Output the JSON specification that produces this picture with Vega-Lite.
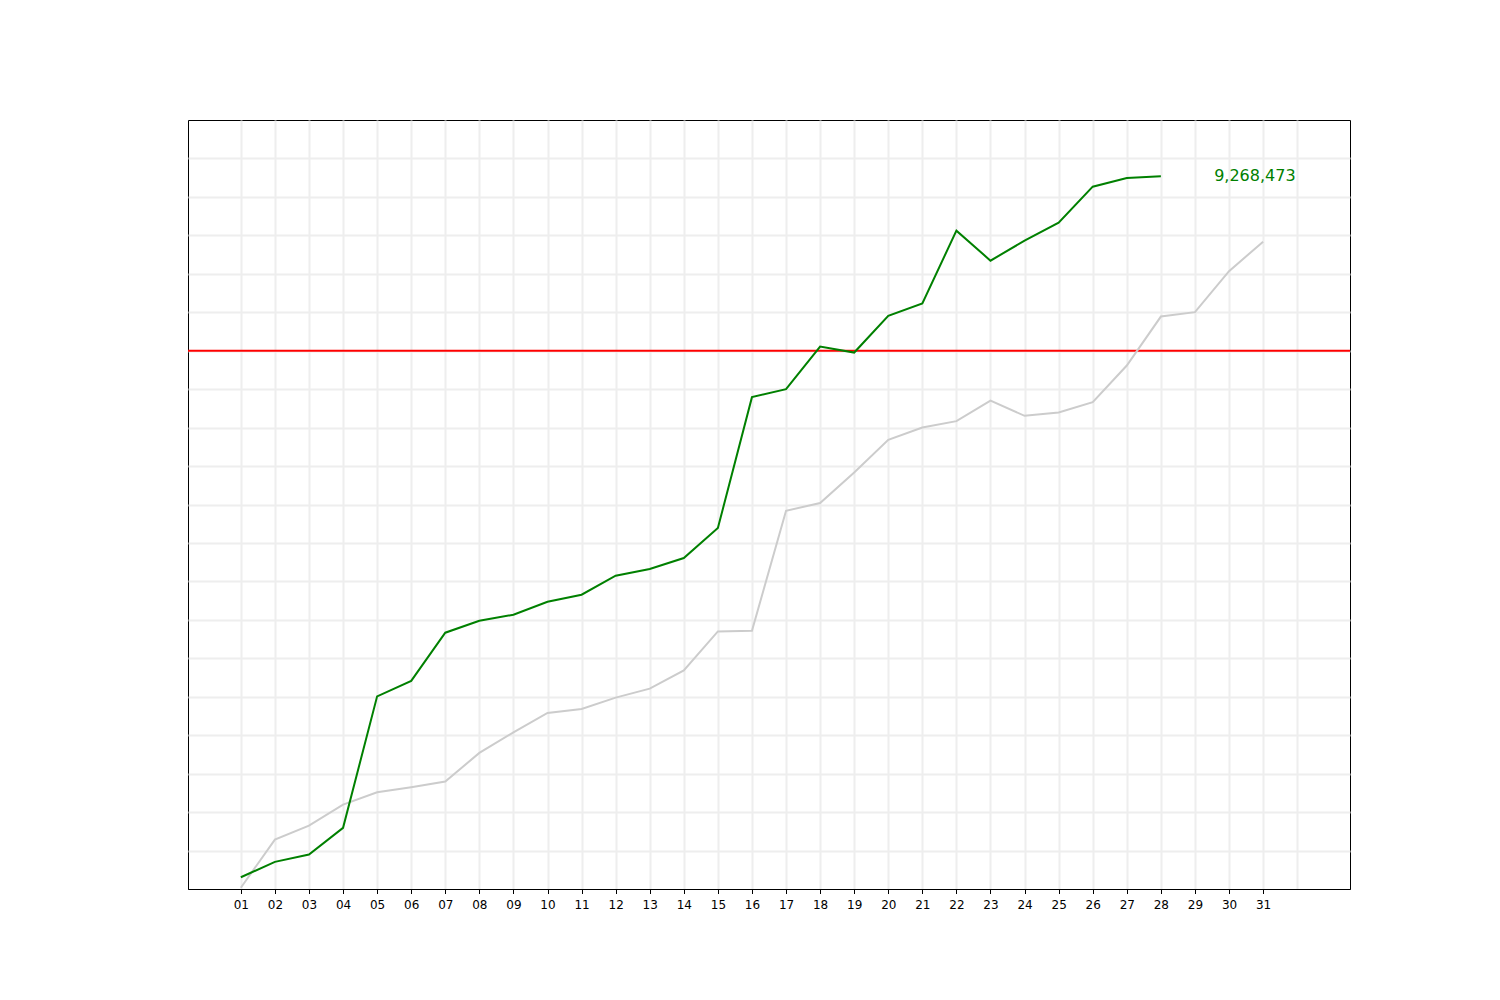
{
  "$schema": "https://vega.github.io/schema/vega-lite/v6.json",
  "autosize": {"type": "none"},
  "padding": {"left": 188, "top": 120, "right": 150, "bottom": 111},
  "width": 1162,
  "height": 769,
  "background": "white",
  "config": {
    "view": {"stroke": "black", "strokeWidth": 1},
    "font": "DejaVu Sans"
  },
  "datasets": {
    "series": [
      {"day": 1, "series": "current", "value": 153000},
      {"day": 2, "series": "current", "value": 353000},
      {"day": 3, "series": "current", "value": 448000},
      {"day": 4, "series": "current", "value": 795000},
      {"day": 5, "series": "current", "value": 2505000},
      {"day": 6, "series": "current", "value": 2706000},
      {"day": 7, "series": "current", "value": 3333000},
      {"day": 8, "series": "current", "value": 3489000},
      {"day": 9, "series": "current", "value": 3567000},
      {"day": 10, "series": "current", "value": 3736000},
      {"day": 11, "series": "current", "value": 3827000},
      {"day": 12, "series": "current", "value": 4074000},
      {"day": 13, "series": "current", "value": 4161000},
      {"day": 14, "series": "current", "value": 4304000},
      {"day": 15, "series": "current", "value": 4694000},
      {"day": 16, "series": "current", "value": 6396000},
      {"day": 17, "series": "current", "value": 6500000},
      {"day": 18, "series": "current", "value": 7054000},
      {"day": 19, "series": "current", "value": 6976000},
      {"day": 20, "series": "current", "value": 7453000},
      {"day": 21, "series": "current", "value": 7615000},
      {"day": 22, "series": "current", "value": 8561000},
      {"day": 23, "series": "current", "value": 8171000},
      {"day": 24, "series": "current", "value": 8431000},
      {"day": 25, "series": "current", "value": 8665000},
      {"day": 26, "series": "current", "value": 9133000},
      {"day": 27, "series": "current", "value": 9246000},
      {"day": 28, "series": "current", "value": 9268473},
      {"day": 1, "series": "previous", "value": 16000},
      {"day": 2, "series": "previous", "value": 643000},
      {"day": 3, "series": "previous", "value": 825000},
      {"day": 4, "series": "previous", "value": 1098000},
      {"day": 5, "series": "previous", "value": 1258000},
      {"day": 6, "series": "previous", "value": 1323000},
      {"day": 7, "series": "previous", "value": 1397000},
      {"day": 8, "series": "previous", "value": 1770000},
      {"day": 9, "series": "previous", "value": 2038000},
      {"day": 10, "series": "previous", "value": 2290000},
      {"day": 11, "series": "previous", "value": 2342000},
      {"day": 12, "series": "previous", "value": 2489000},
      {"day": 13, "series": "previous", "value": 2606000},
      {"day": 14, "series": "previous", "value": 2843000},
      {"day": 15, "series": "previous", "value": 3350000},
      {"day": 16, "series": "previous", "value": 3359000},
      {"day": 17, "series": "previous", "value": 4919000},
      {"day": 18, "series": "previous", "value": 5019000},
      {"day": 19, "series": "previous", "value": 5417000},
      {"day": 20, "series": "previous", "value": 5841000},
      {"day": 21, "series": "previous", "value": 6001000},
      {"day": 22, "series": "previous", "value": 6084000},
      {"day": 23, "series": "previous", "value": 6352000},
      {"day": 24, "series": "previous", "value": 6153000},
      {"day": 25, "series": "previous", "value": 6196000},
      {"day": 26, "series": "previous", "value": 6331000},
      {"day": 27, "series": "previous", "value": 6807000},
      {"day": 28, "series": "previous", "value": 7444000},
      {"day": 29, "series": "previous", "value": 7501000},
      {"day": 30, "series": "previous", "value": 8034000},
      {"day": 31, "series": "previous", "value": 8418000}
    ],
    "target": [{"value": 7000000}]
  },
  "encoding": {
    "x": {
      "field": "day",
      "type": "quantitative",
      "title": null,
      "scale": {"domain": [-0.55, 33.55], "nice": false, "zero": false},
      "axis": {
        "values": [1,2,3,4,5,6,7,8,9,10,11,12,13,14,15,16,17,18,19,20,21,22,23,24,25,26,27,28,29,30,31,32],
        "labelExpr": "datum.value > 31 ? '' : (datum.value < 10 ? '0' + datum.value : '' + datum.value)",
        "tickOpacity": {"condition": {"test": "datum.value > 31", "value": 0}, "value": 1},
        "grid": true,
        "gridColor": "#eeeeee",
        "gridWidth": 2,
        "domainColor": "black",
        "tickColor": "black",
        "tickSize": 4.5,
        "labelPadding": 6,
        "labelFontSize": 12,
        "labelColor": "black",
        "labelFont": "DejaVu Sans"
      }
    },
    "y": {
      "field": "value",
      "type": "quantitative",
      "title": null,
      "scale": {"domain": [0, 10000000], "nice": false},
      "axis": {
        "values": [500000,1000000,1500000,2000000,2500000,3000000,3500000,4000000,4500000,5000000,5500000,6000000,6500000,7000000,7500000,8000000,8500000,9000000,9500000],
        "labels": false,
        "ticks": false,
        "domain": false,
        "grid": true,
        "gridColor": "#eeeeee",
        "gridWidth": 2
      }
    }
  },
  "layer": [
    {
      "data": {"name": "target"},
      "mark": {"type": "rule", "color": "#ff0000", "strokeWidth": 2},
      "encoding": {"x": null, "y": {"field": "value", "type": "quantitative"}}
    },
    {
      "data": {"name": "series"},
      "transform": [{"filter": "datum.series === 'previous'"}],
      "mark": {"type": "line", "color": "#cccccc", "strokeWidth": 2}
    },
    {
      "data": {"name": "series"},
      "transform": [{"filter": "datum.series === 'current'"}],
      "mark": {"type": "line", "color": "#008000", "strokeWidth": 2}
    },
    {
      "data": {"name": "series"},
      "transform": [{"filter": "datum.series === 'current' && datum.day === 28"}],
      "mark": {"type": "text", "color": "#008000", "fontSize": 16, "font": "DejaVu Sans", "align": "center", "baseline": "middle", "dx": 94, "dy": 0},
      "encoding": {"text": {"field": "value", "type": "quantitative", "format": ",d"}}
    }
  ]
}
